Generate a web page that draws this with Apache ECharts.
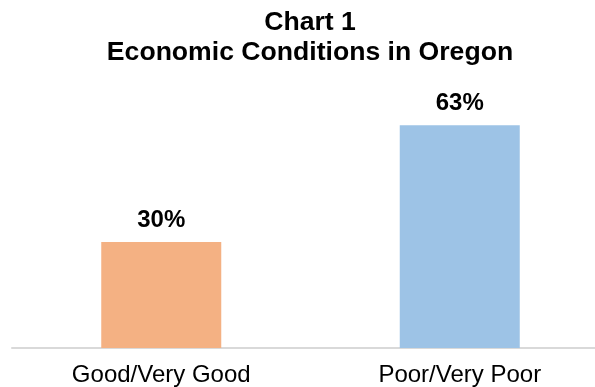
<!DOCTYPE html>
<html>
<head>
<meta charset="utf-8">
<script src="https://cdn.jsdelivr.net/npm/echarts@6/dist/echarts.min.js"></script>
<style>
  html, body { margin: 0; padding: 0; background: #fff; }
  #chart { width: 595px; height: 387px; }
</style>
</head>
<body>
<div id="chart"></div>
<script>
// Share of respondents rating economic conditions
const categories = ['Good/Very Good', 'Poor/Very Poor'];
const values = [30, 63];
const barColors = ['#F4B183', '#9DC3E6'];

const FONT = 'Liberation Sans, Arial, sans-serif';

const chart = echarts.init(document.getElementById('chart'), null, { renderer: 'canvas' });
chart.setOption({
  animation: false,
  title: {
    text: 'Chart 1\nEconomic Conditions in Oregon',
    left: 305,
    textAlign: 'center',
    top: 3,
    textStyle: {
      fontFamily: FONT,
      fontWeight: 'bold',
      fontSize: 26.6,
      lineHeight: 30,
      color: '#000'
    }
  },
  // the plot area runs a little past the right edge of the canvas
  grid: { left: 12, width: 597, top: 65, bottom: 39, containLabel: false, outerBoundsMode: 'none' },
  xAxis: {
    type: 'category',
    data: categories,
    axisLine: { lineStyle: { color: '#d9d9d9', width: 2 } },
    axisTick: { show: false },
    axisLabel: {
      margin: 15,
      fontFamily: FONT,
      fontSize: 24,
      color: '#000'
    }
  },
  yAxis: {
    type: 'value',
    min: 0,
    max: 80,
    show: false,
    splitLine: { show: false }
  },
  series: [{
    type: 'bar',
    barWidth: 120,
    data: values.map((v, i) => ({ value: v, itemStyle: { color: barColors[i] } })),
    label: {
      show: true,
      position: 'top',
      distance: 10,
      formatter: p => p.value + '%',
      fontFamily: FONT,
      fontWeight: 'bold',
      fontSize: 24,
      color: '#000'
    }
  }]
});
</script>
</body>
</html>
